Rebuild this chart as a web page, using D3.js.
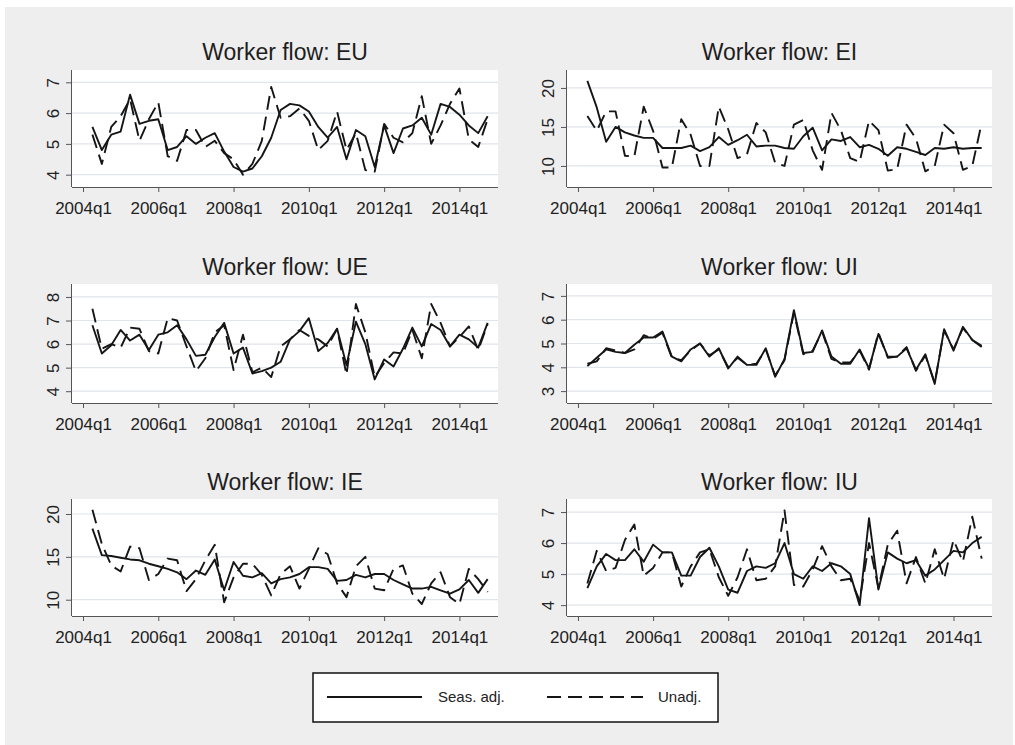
<!DOCTYPE html>
<html>
<head>
<meta charset="utf-8">
<script src="https://cdn.jsdelivr.net/npm/d3@7"></script>
<style>
  html, body { margin: 0; padding: 0; background: #fff; }
  svg { display: block; font-family: "Liberation Sans", Arial, Helvetica, sans-serif; }
</style>
</head>
<body>
<svg id="chart" width="1015" height="745"></svg>
<script>
// Quarterly periods covered by every series
const periods = [
  "2004q2","2004q3","2004q4",
  "2005q1","2005q2","2005q3","2005q4",
  "2006q1","2006q2","2006q3","2006q4",
  "2007q1","2007q2","2007q3","2007q4",
  "2008q1","2008q2","2008q3","2008q4",
  "2009q1","2009q2","2009q3","2009q4",
  "2010q1","2010q2","2010q3","2010q4",
  "2011q1","2011q2","2011q3","2011q4",
  "2012q1","2012q2","2012q3","2012q4",
  "2013q1","2013q2","2013q3","2013q4",
  "2014q1","2014q2","2014q3","2014q4"
];
const xTickLabels = ["2004q1","2006q1","2008q1","2010q1","2012q1","2014q1"];

// Worker flow rates, seasonally adjusted (SA) and unadjusted (NSA)
const euSA  = [5.55,4.8,5.3,5.4,6.6,5.65,5.75,5.8,4.8,4.9,5.25,5.0,5.2,5.35,4.75,4.25,4.1,4.2,4.6,5.2,6.1,6.3,6.25,6.05,5.55,5.2,5.55,4.5,5.45,5.25,4.25,5.6,4.7,5.5,5.6,5.85,5.3,6.3,6.2,5.95,5.6,5.35,5.9];
const euNSA = [5.3,4.35,5.55,5.9,6.45,5.1,5.8,6.35,4.6,4.45,5.45,5.45,4.9,5.1,4.7,4.5,4.0,4.35,5.1,6.85,5.85,5.9,6.15,5.75,4.8,5.1,6.05,4.8,5.35,4.15,4.1,5.65,5.2,5.05,5.35,6.55,5.0,5.6,6.3,6.8,5.15,4.9,5.8];

const eiSA  = [20.9,17.5,13.1,15.0,14.3,13.9,13.6,13.6,12.3,12.3,12.3,12.6,11.9,12.4,13.7,12.7,13.3,14.0,12.5,12.6,12.6,12.3,12.2,13.8,14.9,12.0,13.4,13.2,13.7,12.4,12.7,12.2,11.3,12.4,12.2,11.8,11.4,12.3,12.2,12.4,12.2,12.3,12.3];
const eiNSA = [16.4,14.5,17.0,17.0,11.3,11.2,17.6,14.5,9.8,9.8,16.0,14.0,10.0,10.0,17.6,14.7,11.0,11.5,15.5,14.3,10.4,10.0,15.3,15.9,12.0,9.5,16.8,14.6,11.0,10.5,15.8,14.6,9.4,9.6,15.3,13.5,9.3,10.0,15.3,14.2,9.5,10.0,15.5];

const ueSA  = [6.8,5.6,5.95,6.6,6.15,6.4,5.75,6.4,6.5,6.8,6.2,5.5,5.55,6.3,6.9,5.6,5.85,4.75,4.85,5.0,5.25,6.2,6.55,7.1,5.7,6.05,6.65,5.1,6.95,6.0,4.5,5.35,5.05,5.8,6.7,5.9,6.85,6.6,5.9,6.4,6.2,5.85,6.9];
const ueNSA = [7.5,5.8,6.0,5.85,6.7,6.65,5.7,5.6,7.1,7.0,5.9,4.85,5.4,6.5,6.8,4.9,6.4,4.8,5.0,4.6,5.9,6.2,6.6,6.35,6.2,5.9,6.65,4.7,7.7,6.5,4.6,5.2,5.65,5.6,6.6,5.4,7.7,6.9,5.9,6.3,6.75,5.75,6.85];

const uiSA  = [4.05,4.4,4.75,4.65,4.6,4.95,5.25,5.25,5.5,4.45,4.25,4.75,5.0,4.45,4.8,3.95,4.45,4.1,4.1,4.8,3.6,4.35,6.4,4.6,4.65,5.55,4.45,4.15,4.15,4.75,3.95,5.4,4.45,4.45,4.8,3.9,4.55,3.3,5.6,4.7,5.7,5.15,4.85];
const uiNSA = [4.15,4.25,4.8,4.7,4.6,4.75,5.35,5.2,5.45,4.4,4.3,4.7,5.0,4.5,4.75,4.0,4.4,4.1,4.15,4.75,3.65,4.3,6.3,4.55,4.7,5.5,4.35,4.2,4.2,4.7,3.9,5.45,4.4,4.45,4.85,3.85,4.5,3.35,5.55,4.75,5.65,5.15,4.9];

const ieSA  = [18.3,15.2,15.1,14.9,14.7,14.6,14.2,13.9,13.6,13.2,12.4,13.4,12.9,14.7,11.1,14.4,12.8,12.6,13.1,11.9,12.4,12.6,13.0,13.8,13.8,13.6,12.2,12.3,12.9,12.6,13.0,13.0,12.3,11.8,11.3,11.3,11.5,11.1,10.7,11.2,12.3,10.8,12.4];
const ieNSA = [20.5,16.5,14.0,13.3,16.2,16.0,12.3,13.0,14.8,14.6,11.0,12.4,14.6,16.4,9.7,12.6,14.2,14.2,12.9,10.5,13.0,13.9,11.3,13.6,16.0,15.3,11.9,10.3,13.9,15.0,11.3,11.1,13.6,14.0,10.7,9.5,11.9,13.2,10.3,9.5,13.6,12.4,10.9];

const iuSA  = [4.55,5.25,5.65,5.45,5.45,5.8,5.4,5.95,5.7,5.7,4.95,4.95,5.55,5.85,5.25,4.5,4.4,5.1,5.25,5.2,5.35,6.0,5.0,4.85,5.25,5.1,5.35,5.25,5.0,4.0,6.8,4.5,5.7,5.5,5.35,5.45,4.95,5.15,5.45,5.75,5.7,6.0,6.2];
const iuNSA = [4.7,5.75,5.1,5.2,6.1,6.6,4.95,5.2,5.7,5.7,4.6,5.25,5.7,5.8,4.9,4.3,4.9,5.8,4.8,4.85,5.25,7.05,4.65,4.6,5.15,5.9,5.25,4.8,4.85,4.15,6.0,4.55,5.95,6.4,4.7,5.55,4.7,5.8,4.85,6.1,5.4,6.85,5.5];

// Y-axis tick values per panel
const euTicks = [4,5,6,7];
const eiTicks = [10,15,20];
const ueTicks = [4,5,6,7,8];
const uiTicks = [3,4,5,6,7];
const ieTicks = [10,15,20];
const iuTicks = [4,5,6,7];

const legendLabels = ["Seas. adj.", "Unadj."];

// ---- layout ----
const W = 1015, H = 745;
const colX = [[72, 498], [567, 992]];
const rowY = [[70, 187], [284, 403], [499, 616]];
const titleY = [60, 275, 490];
const dash = "14,7";
const ink = "#151515";

const panels = [
  { title: "Worker flow: EU", sa: euSA, nsa: euNSA, ticks: euTicks, domain: [3.6, 7.4],  col: 0, row: 0 },
  { title: "Worker flow: EI", sa: eiSA, nsa: eiNSA, ticks: eiTicks, domain: [7.3, 22.3], col: 1, row: 0 },
  { title: "Worker flow: UE", sa: ueSA, nsa: ueNSA, ticks: ueTicks, domain: [3.5, 8.55], col: 0, row: 1 },
  { title: "Worker flow: UI", sa: uiSA, nsa: uiNSA, ticks: uiTicks, domain: [2.5, 7.5],  col: 1, row: 1 },
  { title: "Worker flow: IE", sa: ieSA, nsa: ieNSA, ticks: ieTicks, domain: [8.1, 21.75], col: 0, row: 2 },
  { title: "Worker flow: IU", sa: iuSA, nsa: iuNSA, ticks: iuTicks, domain: [3.65, 7.42], col: 1, row: 2 }
];

// quarter label -> quarters since 2004q1
const qIndex = s => (+s.slice(0, 4) - 2004) * 4 + (+s.slice(5) - 1);

const svg = d3.select("#chart");

svg.append("rect").attr("width", W).attr("height", H).attr("fill", "#ffffff");
svg.append("rect").attr("x", 5).attr("y", 7).attr("width", 1008).attr("height", 738).attr("fill", "#eeeeee");

panels.forEach(p => {
  const [x0, x1] = colX[p.col];
  const [y0, y1] = rowY[p.row];

  const x = d3.scaleLinear().domain([-1.17, 44.1]).range([x0, x1]);
  const y = d3.scaleLinear().domain(p.domain).range([y1, y0]);

  const g = svg.append("g");

  g.append("rect")
    .attr("x", x0).attr("y", y0)
    .attr("width", x1 - x0).attr("height", y1 - y0)
    .attr("fill", "#ffffff");

  // horizontal grid
  g.selectAll("line.grid").data(p.ticks).join("line")
    .attr("class", "grid")
    .attr("x1", x0).attr("x2", x1)
    .attr("y1", d => y(d)).attr("y2", d => y(d))
    .attr("stroke", "#dfe5ea").attr("stroke-width", 1.2);

  // title
  g.append("text")
    .attr("x", (x0 + x1) / 2).attr("y", titleY[p.row])
    .attr("text-anchor", "middle")
    .attr("font-size", 23).attr("fill", "#1e1e1e")
    .text(p.title);

  // x axis
  const xAxis = d3.axisBottom(x)
    .tickValues(xTickLabels.map(qIndex))
    .tickFormat((d, i) => xTickLabels[i])
    .tickSize(5).tickSizeOuter(0).tickPadding(10);
  const gx = g.append("g").attr("transform", `translate(0,${y1})`).call(xAxis);
  gx.select(".domain").attr("stroke", "#555").attr("d", `M${x0},0.5H${x1}`);
  gx.selectAll(".tick line").attr("stroke", "#555");
  gx.selectAll(".tick text").attr("font-size", 17).attr("fill", "#222")
    .attr("font-family", "Liberation Sans, Arial, sans-serif");

  // y axis, labels rotated
  const yAxis = d3.axisLeft(y).tickValues(p.ticks).tickFormat(d3.format("d"))
    .tickSize(6).tickSizeOuter(0);
  const gy = g.append("g").attr("transform", `translate(${x0},0)`).call(yAxis);
  gy.select(".domain").attr("stroke", "#555").attr("d", `M-0.5,${y0}V${y1}`);
  gy.selectAll(".tick line").attr("stroke", "#555");
  gy.selectAll(".tick text")
    .attr("x", null).attr("dy", null)
    .attr("text-anchor", "middle")
    .attr("transform", "translate(-13,0) rotate(-90)")
    .attr("font-size", 17).attr("fill", "#222")
    .attr("font-family", "Liberation Sans, Arial, sans-serif");

  const line = vals => d3.line()
    .x((d, i) => x(qIndex(periods[i])))
    .y(d => y(d))(vals);

  g.append("path").attr("d", line(p.nsa))
    .attr("fill", "none").attr("stroke", ink)
    .attr("stroke-width", 1.9).attr("stroke-dasharray", dash)
    .attr("stroke-linejoin", "round");

  g.append("path").attr("d", line(p.sa))
    .attr("fill", "none").attr("stroke", ink)
    .attr("stroke-width", 1.9).attr("stroke-linejoin", "round");
});

// legend
const lg = svg.append("g");
lg.append("rect").attr("x", 313).attr("y", 673).attr("width", 405).attr("height", 49)
  .attr("fill", "#ffffff").attr("stroke", "#111").attr("stroke-width", 1.5);
lg.append("line").attr("x1", 327).attr("x2", 422).attr("y1", 697).attr("y2", 697)
  .attr("stroke", ink).attr("stroke-width", 1.9);
lg.append("text").attr("x", 438).attr("y", 702).attr("font-size", 15).attr("fill", "#222")
  .text(legendLabels[0]);
lg.append("line").attr("x1", 547).attr("x2", 643).attr("y1", 697).attr("y2", 697)
  .attr("stroke", ink).attr("stroke-width", 1.9).attr("stroke-dasharray", dash);
lg.append("text").attr("x", 658).attr("y", 702).attr("font-size", 15).attr("fill", "#222")
  .text(legendLabels[1]);
</script>
</body>
</html>
